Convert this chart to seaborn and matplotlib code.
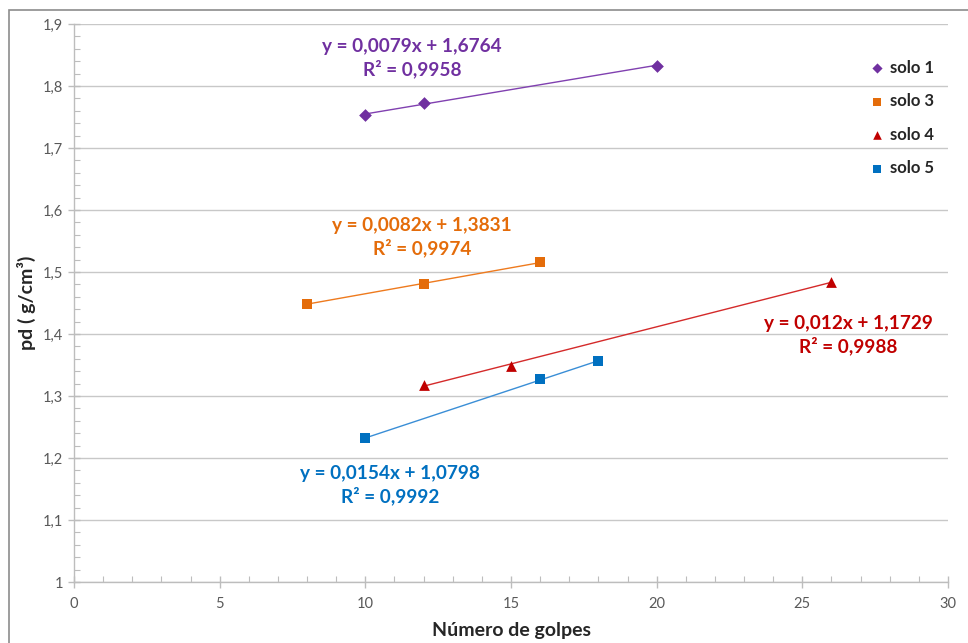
import matplotlib
matplotlib.use("Agg")
import matplotlib.pyplot as plt
import seaborn as sns
import numpy as np
from matplotlib.ticker import MultipleLocator, FixedLocator, FixedFormatter
from matplotlib.patches import Rectangle

# ---- data ----
series_names = ["solo 1", "solo 3", "solo 4", "solo 5"]
solo1_x = [10, 12, 20]
solo1_y = [1.753, 1.773, 1.833]
solo3_x = [8, 12, 16]
solo3_y = [1.449, 1.480, 1.516]
solo4_x = [12, 15, 26]
solo4_y = [1.318, 1.349, 1.484]
solo5_x = [10, 16, 18]
solo5_y = [1.232, 1.327, 1.356]
equations = ["y = 0,0079x + 1,6764\nR² = 0,9958",
             "y = 0,0082x + 1,3831\nR² = 0,9974",
             "y = 0,012x + 1,1729\nR² = 0,9988",
             "y = 0,0154x + 1,0798\nR² = 0,9992"]
x_ticks = [0, 5, 10, 15, 20, 25, 30]
x_tick_labels = ["0", "5", "10", "15", "20", "25", "30"]
y_ticks = [1.0, 1.1, 1.2, 1.3, 1.4, 1.5, 1.6, 1.7, 1.8, 1.9]
y_tick_labels = ["1", "1,1", "1,2", "1,3", "1,4", "1,5", "1,6", "1,7", "1,8", "1,9"]
x_label = "Número de golpes"
y_label = "pd ( g/cm³)"

# ---- style ----
sns.set_theme(style="white")
plt.rcParams['font.family'] = ['Lato', 'DejaVu Sans']

marker_colors = ["#7030A0", "#E46C0A", "#C00000", "#0070C0"]
line_colors = ["#8040B0", "#EE7A1E", "#D42A2A", "#3A8ED6"]
markers = ["D", "s", "^", "s"]
sizes = [42, 55, 60, 55]
text_pos = [(412, 58), (422, 237), (848, 335), (390, 485)]  # pixel centers

fig = plt.figure(figsize=(9.68, 6.43), dpi=100)
W, H = 968, 643
ax = fig.add_axes([74 / W, 1 - 582 / H, (948 - 74) / W, (582 - 24) / H])

xs = [solo1_x, solo3_x, solo4_x, solo5_x]
ys = [solo1_y, solo3_y, solo4_y, solo5_y]
for i in range(4):
    sns.regplot(x=np.array(xs[i]), y=np.array(ys[i]), ax=ax, ci=None, truncate=True,
                marker=markers[i], label=series_names[i],
                scatter_kws=dict(s=sizes[i], color=marker_colors[i], alpha=1,
                                 linewidths=0, zorder=4),
                line_kws=dict(color=line_colors[i], lw=1.0, zorder=3))

ax.set_xlim(0, 30)
ax.set_ylim(1.0, 1.9)
ax.xaxis.set_major_locator(FixedLocator(x_ticks))
ax.xaxis.set_major_formatter(FixedFormatter(x_tick_labels))
ax.yaxis.set_major_locator(FixedLocator(y_ticks))
ax.yaxis.set_major_formatter(FixedFormatter(y_tick_labels))
ax.xaxis.set_minor_locator(MultipleLocator(1))
ax.yaxis.set_minor_locator(MultipleLocator(0.02))

grid_c = "#C8C8C8"
axis_c = "#BDBDBD"
ax.grid(axis='y', which='major', color=grid_c, lw=1.0)
ax.grid(axis='x', visible=False)
ax.set_axisbelow(True)
for s in ["top", "right"]:
    ax.spines[s].set_visible(False)
for s in ["left", "bottom"]:
    ax.spines[s].set_color(axis_c)
    ax.spines[s].set_linewidth(1.0)

ax.tick_params(which='major', direction='inout', length=8, width=1, color=axis_c,
               labelsize=10.5, labelcolor="#595959", pad=4, left=True, bottom=True)
ax.tick_params(axis='x', which='major', pad=7)
ax.tick_params(which='minor', direction='in', length=4, width=0.8, color=axis_c,
               left=True, bottom=True)

ax.set_xlabel(x_label, fontsize=14, fontweight='bold', color="#262626", labelpad=8)
ax.set_ylabel(y_label, fontsize=14, fontweight='bold', color="#262626", labelpad=5)

for i in range(4):
    px, py = text_pos[i]
    fig.text(px / W, 1 - py / H, equations[i], ha='center', va='center',
             fontsize=13.7, fontweight='bold', color=marker_colors[i],
             linespacing=1.25)

leg = ax.legend(loc='upper left', bbox_to_anchor=(0.9, 0.948), frameon=False,
                fontsize=12, handletextpad=0.15, labelspacing=1.05, handlelength=1.2,
                markerscale=0.8, borderaxespad=0)
for t in leg.get_texts():
    t.set_fontweight('bold')
    t.set_color("#262626")

fig.patches.append(Rectangle((9 / W, -0.1), 1.2, 1 - 10 / H + 0.1, transform=fig.transFigure,
                             fill=False, edgecolor="#8C8C8C", lw=1.2))

fig.savefig("out.png", dpi=100)
